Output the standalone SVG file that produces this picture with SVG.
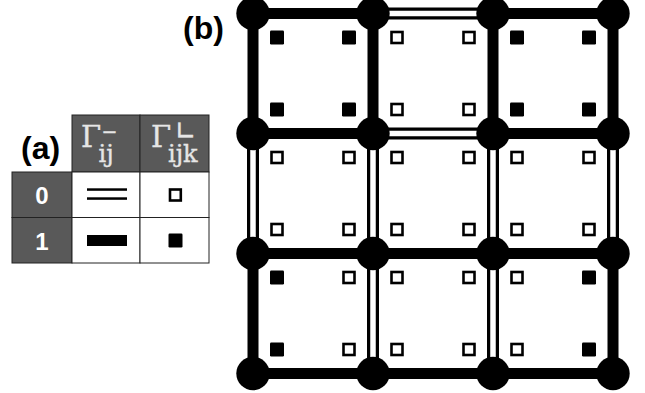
<svg xmlns="http://www.w3.org/2000/svg" width="645" height="393" viewBox="0 0 645 393">
  <style>
    .lbl { font-family: "Liberation Sans", Arial, sans-serif; font-weight: bold; font-size: 32px; fill: #000; }
    .hdr { fill: #595959; stroke: #222; stroke-width: 1; }
    .cell { fill: #fff; stroke: #222; stroke-width: 1; }
    .gam { font-family: "DejaVu Serif", "Liberation Serif", serif; fill: #e6e6e6; stroke: #e6e6e6; stroke-width: 0.35; }
    .num { font-family: "Liberation Sans", Arial, sans-serif; font-weight: bold; font-size: 24px; fill: #fff; text-anchor: middle; }
    .thick { stroke: #000; stroke-width: 11; stroke-linecap: butt; }
    .dblo { stroke: #000; stroke-width: 12; }
    .dbli { stroke: #fff; stroke-width: 5.5; }
    .node { fill: #000; }
    .on { fill: #000; }
    .off { fill: #fff; stroke: #000; stroke-width: 2.6; }
  </style>

  <!-- (a) legend table -->
  <g id="legend">
    <text class="lbl" x="21" y="158.5">(a)</text>
    <rect class="hdr" x="72" y="115" width="68" height="57"/>
    <rect class="hdr" x="140" y="115" width="69" height="57"/>
    <rect class="hdr" x="12" y="172" width="60" height="45.5"/>
    <rect class="hdr" x="12" y="217.5" width="60" height="45.5"/>
    <rect class="cell" x="72" y="172" width="68" height="45.5"/>
    <rect class="cell" x="140" y="172" width="69" height="45.5"/>
    <rect class="cell" x="72" y="217.5" width="68" height="45.5"/>
    <rect class="cell" x="140" y="217.5" width="69" height="45.5"/>
    <!-- column headers -->
    <text class="gam"><tspan x="81" y="147" font-size="29">Γ</tspan><tspan x="98.5" y="161.5" font-size="24">ij</tspan><tspan x="101.5" y="138" font-size="19">−</tspan></text>
    <text class="gam"><tspan x="151" y="147" font-size="29">Γ</tspan><tspan x="168" y="162" font-size="24">ijk</tspan><tspan x="174.5" y="139.5" font-size="26" font-family="DejaVu Sans, sans-serif">∟</tspan></text>
    <!-- row labels -->
    <text class="num" x="42" y="203.5">0</text>
    <text class="num" x="42" y="250">1</text>
    <!-- row 0: double edge, open corner -->
    <rect x="87" y="188.3" width="40" height="2.5" fill="#000"/>
    <rect x="87" y="197.3" width="40" height="2.5" fill="#000"/>
    <rect class="off" x="170" y="189.5" width="10.8" height="11"/>
    <!-- row 1: thick edge, filled corner -->
    <rect x="87" y="235" width="40" height="11" fill="#000"/>
    <rect class="on" x="168.5" y="233.5" width="14" height="14" rx="1.2"/>
  </g>

  <!-- (b) label -->
  <text class="lbl" x="183" y="38.5">(b)</text>

  <!-- connectors: lattice edges -->
  <g id="edges">
    <!-- horizontal -->
    <line class="thick" x1="253" y1="13.5" x2="373" y2="13.5"/>
    <line class="dblo" x1="373" y1="13.5" x2="493" y2="13.5"/>
    <line class="dbli" x1="373" y1="13.5" x2="493" y2="13.5"/>
    <line class="thick" x1="493" y1="13.5" x2="613" y2="13.5"/>

    <line class="thick" x1="253" y1="133.5" x2="373" y2="133.5"/>
    <line class="dblo" x1="373" y1="133.5" x2="493" y2="133.5"/>
    <line class="dbli" x1="373" y1="133.5" x2="493" y2="133.5"/>
    <line class="thick" x1="493" y1="133.5" x2="613" y2="133.5"/>

    <line class="thick" x1="253" y1="253.5" x2="613" y2="253.5"/>
    <line class="thick" x1="253" y1="373.5" x2="613" y2="373.5"/>

    <!-- vertical -->
    <line class="thick" x1="253" y1="13.5" x2="253" y2="133.5"/>
    <line class="dblo" x1="253" y1="133.5" x2="253" y2="253.5"/>
    <line class="dbli" x1="253" y1="133.5" x2="253" y2="253.5"/>
    <line class="thick" x1="253" y1="253.5" x2="253" y2="373.5"/>

    <line class="thick" x1="373" y1="13.5" x2="373" y2="133.5"/>
    <line class="dblo" x1="373" y1="133.5" x2="373" y2="373.5"/>
    <line class="dbli" x1="373" y1="133.5" x2="373" y2="373.5"/>

    <line class="thick" x1="493" y1="13.5" x2="493" y2="133.5"/>
    <line class="dblo" x1="493" y1="133.5" x2="493" y2="373.5"/>
    <line class="dbli" x1="493" y1="133.5" x2="493" y2="373.5"/>

    <line class="thick" x1="613" y1="13.5" x2="613" y2="133.5"/>
    <line class="dblo" x1="613" y1="133.5" x2="613" y2="253.5"/>
    <line class="dbli" x1="613" y1="133.5" x2="613" y2="253.5"/>
    <line class="thick" x1="613" y1="253.5" x2="613" y2="373.5"/>
  </g>

  <!-- plaquette corner markers -->
  <g id="cell-0-0">
    <rect class="on" x="270" y="30.5" width="14" height="14" rx="1.2"/>
    <rect class="on" x="342" y="30.5" width="14" height="14" rx="1.2"/>
    <rect class="on" x="270" y="102.5" width="14" height="14" rx="1.2"/>
    <rect class="on" x="342" y="102.5" width="14" height="14" rx="1.2"/>
  </g>
  <g id="cell-0-1">
    <rect class="off" x="391.5" y="32" width="11" height="11"/>
    <rect class="off" x="463.5" y="32" width="11" height="11"/>
    <rect class="off" x="391.5" y="104" width="11" height="11"/>
    <rect class="off" x="463.5" y="104" width="11" height="11"/>
  </g>
  <g id="cell-0-2">
    <rect class="on" x="510" y="30.5" width="14" height="14" rx="1.2"/>
    <rect class="on" x="582" y="30.5" width="14" height="14" rx="1.2"/>
    <rect class="on" x="510" y="102.5" width="14" height="14" rx="1.2"/>
    <rect class="on" x="582" y="102.5" width="14" height="14" rx="1.2"/>
  </g>
  <g id="cell-1-0">
    <rect class="off" x="271.5" y="152" width="11" height="11"/>
    <rect class="off" x="343.5" y="152" width="11" height="11"/>
    <rect class="off" x="271.5" y="224" width="11" height="11"/>
    <rect class="off" x="343.5" y="224" width="11" height="11"/>
  </g>
  <g id="cell-1-1">
    <rect class="off" x="391.5" y="152" width="11" height="11"/>
    <rect class="off" x="463.5" y="152" width="11" height="11"/>
    <rect class="off" x="391.5" y="224" width="11" height="11"/>
    <rect class="off" x="463.5" y="224" width="11" height="11"/>
  </g>
  <g id="cell-1-2">
    <rect class="off" x="511.5" y="152" width="11" height="11"/>
    <rect class="off" x="583.5" y="152" width="11" height="11"/>
    <rect class="off" x="511.5" y="224" width="11" height="11"/>
    <rect class="off" x="583.5" y="224" width="11" height="11"/>
  </g>
  <g id="cell-2-0">
    <rect class="on" x="270" y="270.5" width="14" height="14" rx="1.2"/>
    <rect class="off" x="343.5" y="272" width="11" height="11"/>
    <rect class="on" x="270" y="342.5" width="14" height="14" rx="1.2"/>
    <rect class="off" x="343.5" y="344" width="11" height="11"/>
  </g>
  <g id="cell-2-1">
    <rect class="off" x="391.5" y="272" width="11" height="11"/>
    <rect class="off" x="463.5" y="272" width="11" height="11"/>
    <rect class="off" x="391.5" y="344" width="11" height="11"/>
    <rect class="off" x="463.5" y="344" width="11" height="11"/>
  </g>
  <g id="cell-2-2">
    <rect class="off" x="511.5" y="272" width="11" height="11"/>
    <rect class="on" x="582" y="270.5" width="14" height="14" rx="1.2"/>
    <rect class="off" x="511.5" y="344" width="11" height="11"/>
    <rect class="on" x="582" y="342.5" width="14" height="14" rx="1.2"/>
  </g>

  <!-- lattice vertices -->
  <g id="v-0-0"><circle class="node" cx="253" cy="13.5" r="16.7"/></g>
  <g id="v-0-1"><circle class="node" cx="373" cy="13.5" r="16.7"/></g>
  <g id="v-0-2"><circle class="node" cx="493" cy="13.5" r="16.7"/></g>
  <g id="v-0-3"><circle class="node" cx="613" cy="13.5" r="16.7"/></g>
  <g id="v-1-0"><circle class="node" cx="253" cy="133.5" r="16.7"/></g>
  <g id="v-1-1"><circle class="node" cx="373" cy="133.5" r="16.7"/></g>
  <g id="v-1-2"><circle class="node" cx="493" cy="133.5" r="16.7"/></g>
  <g id="v-1-3"><circle class="node" cx="613" cy="133.5" r="16.7"/></g>
  <g id="v-2-0"><circle class="node" cx="253" cy="253.5" r="16.7"/></g>
  <g id="v-2-1"><circle class="node" cx="373" cy="253.5" r="16.7"/></g>
  <g id="v-2-2"><circle class="node" cx="493" cy="253.5" r="16.7"/></g>
  <g id="v-2-3"><circle class="node" cx="613" cy="253.5" r="16.7"/></g>
  <g id="v-3-0"><circle class="node" cx="253" cy="373.5" r="16.7"/></g>
  <g id="v-3-1"><circle class="node" cx="373" cy="373.5" r="16.7"/></g>
  <g id="v-3-2"><circle class="node" cx="493" cy="373.5" r="16.7"/></g>
  <g id="v-3-3"><circle class="node" cx="613" cy="373.5" r="16.7"/></g>
</svg>
